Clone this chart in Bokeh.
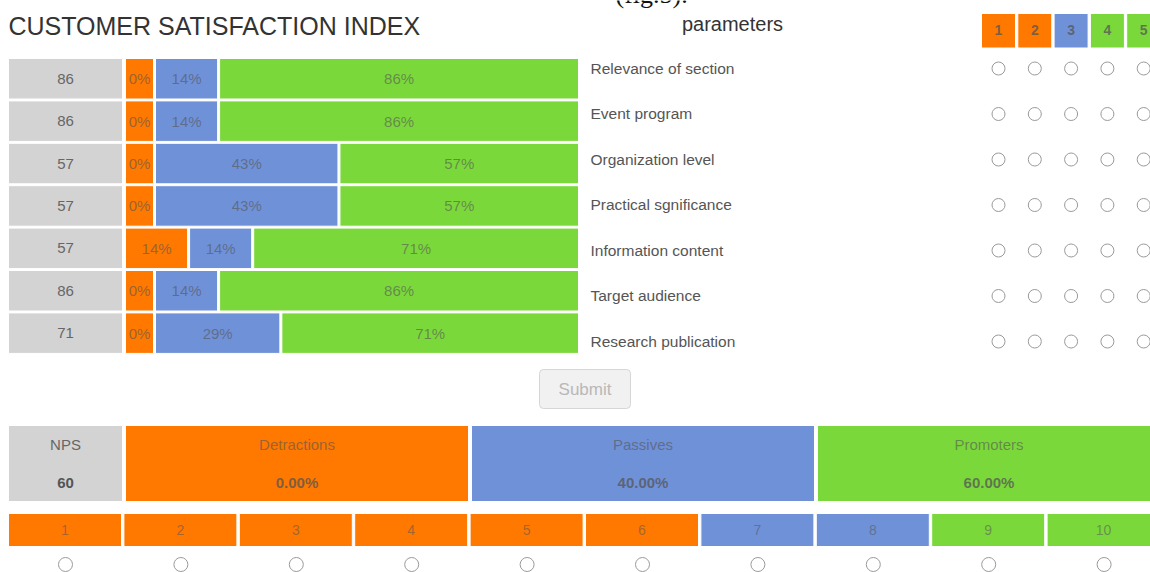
from bokeh.plotting import figure
from bokeh.models import Range1d, ColumnDataSource
from bokeh.embed import file_html
from bokeh.resources import INLINE
from bokeh.core.properties import value

# ---------------- data ----------------
title_text = "CUSTOMER SATISFACTION INDEX"
caption_text = "(fig.5)."
params_header = "parameters"
categories = ["Relevance of section", "Event program", "Organization level",
              "Practical sgnificance", "Information content", "Target audience",
              "Research publication"]
scores = [86, 86, 57, 57, 57, 86, 71]
detractors = [0, 0, 0, 0, 14, 0, 0]
passives = [14, 14, 43, 43, 14, 14, 29]
promoters = [86, 86, 57, 57, 71, 86, 71]

scale_labels = ["1", "2", "3", "4", "5"]
scale_groups = ["detractor", "detractor", "passive", "promoter", "promoter"]

nps_label = "NPS"
nps_value = 60
summary_labels = ["Detractions", "Passives", "Promoters"]
summary_groups = ["detractor", "passive", "promoter"]
summary_values = [0.00, 40.00, 60.00]

nps_scale = ["1", "2", "3", "4", "5", "6", "7", "8", "9", "10"]
nps_groups = ["detractor", "detractor", "detractor", "detractor", "detractor",
              "detractor", "passive", "passive", "promoter", "promoter"]
button_label = "Submit"

# ---------------- style ----------------
COLORS = {"detractor": "#FF7800", "passive": "#6F91D8", "promoter": "#7BD83B"}
GRAY = "#D3D3D3"
FONT = value("Liberation Sans")
TXT = "#555555"

W, H = 1150, 572
p = figure(width=W, height=H, output_backend="svg", toolbar_location=None,
           x_range=Range1d(0, W), y_range=Range1d(H, 0),
           min_border=0, outline_line_color=None, background_fill_color="white",
           border_fill_color="white")
p.xaxis.visible = False
p.yaxis.visible = False
p.grid.visible = False


def boxes(src, **kw):
    p.quad(left="l", right="r", top="t", bottom="b", source=ColumnDataSource(src),
           fill_color="c", line_color="white", line_width=1, **kw)


def texts(src, size="15px", color=TXT, alpha=0.7, align="center", style="normal",
          baseline="middle", font=FONT):
    p.text(x="x", y="y", text="s", source=ColumnDataSource(src), text_font=font,
           text_font_size=value(size), text_color=color, text_alpha=alpha,
           text_align=align, text_baseline=baseline, text_font_style=style)


# ---------------- title ----------------
texts(dict(x=[615], y=[-6], s=[caption_text]), size="26px", color="#111111", alpha=1.0,
      align="left", font=value("Liberation Serif"))
texts(dict(x=[8], y=[25.5], s=[title_text]), size="25px", color="#333333", alpha=1.0,
      align="left")
texts(dict(x=[732], y=[23], s=[params_header]), size="20px", color="#333333", alpha=1.0)

# ---------------- stacked rows ----------------
row_top0, row_pitch, bar_h = 58, 42.4, 40.5
bar_left, bar_right, gap = 125, 578, 2
L, R, T, B, C = [], [], [], [], []
tx, ty, ts = [], [], []
gx, gy, gs = [], [], []
for i, cat in enumerate(categories):
    top = row_top0 + i * row_pitch
    bot = top + bar_h
    mid = (top + bot) / 2
    gx.append(65); gy.append(mid); gs.append(str(scores[i]))
    segs = [(detractors[i], "detractor"), (passives[i], "passive"), (promoters[i], "promoter")]
    x = bar_left
    for j, (pct, grp) in enumerate(segs):
        if j == len(segs) - 1:
            right = bar_right
        else:
            right = x + max(28, pct * 4.15 + 4)
        L.append(x); R.append(right); T.append(top); B.append(bot); C.append(COLORS[grp])
        tx.append((x + right) / 2); ty.append(mid); ts.append(f"{pct}%")
        x = right + gap

nrow = len(categories)
boxes(dict(l=[8] * nrow, r=[122] * nrow,
           t=[row_top0 + i * row_pitch for i in range(nrow)],
           b=[row_top0 + i * row_pitch + bar_h for i in range(nrow)],
           c=[GRAY] * nrow))
boxes(dict(l=L, r=R, t=T, b=B, c=C))
texts(dict(x=gx, y=gy, s=gs), color="#666666", alpha=1.0)
texts(dict(x=tx, y=ty, s=ts), alpha=0.6)

# ---------------- parameter table ----------------
lab_y0, lab_pitch = 67.5, 45.5
texts(dict(x=[590] * nrow, y=[lab_y0 + i * lab_pitch for i in range(nrow)],
           s=categories), size="15.5px", color="#555555", alpha=1.0, align="left")

hx0, hpitch, hw = 981, 36.3, 34
ns = len(scale_labels)
boxes(dict(l=[hx0 + k * hpitch for k in range(ns)],
           r=[hx0 + k * hpitch + hw for k in range(ns)],
           t=[13] * ns, b=[47.5] * ns,
           c=[COLORS[g] for g in scale_groups]))
texts(dict(x=[hx0 + k * hpitch + hw / 2 for k in range(ns)],
           y=[29.5] * ns, s=scale_labels), size="14px", alpha=0.75, style="bold")

rx, ry = [], []
for i in range(nrow):
    for k in range(ns):
        rx.append(hx0 + k * hpitch + hw / 2)
        ry.append(68 + i * lab_pitch)
p.scatter(rx, ry, marker="circle", size=13, fill_color="white", line_color="#9a9a9a",
          line_width=1)

# ---------------- submit button ----------------
p.quad(left=[539], right=[630], top=[369], bottom=[408], fill_color="#f1f1f1",
       line_color="#d6d6d6", line_width=1, border_radius=4)
texts(dict(x=[584.5], y=[389], s=[button_label]), size="17px", color="#b8b8b8", alpha=1.0)

# ---------------- NPS summary ----------------
ny0, ny1 = 425, 501
boxes(dict(l=[8], r=[122], t=[ny0], b=[ny1], c=[GRAY]))
sx0, spitch, sw = 125, 346, 343
boxes(dict(l=[sx0 + k * spitch for k in range(3)], r=[sx0 + k * spitch + sw for k in range(3)],
           t=[ny0] * 3, b=[ny1] * 3, c=[COLORS[g] for g in summary_groups]))
texts(dict(x=[65], y=[444], s=[nps_label]), color="#666666", alpha=1.0)
texts(dict(x=[65], y=[482], s=[str(nps_value)]), color="#555555", alpha=1.0, style="bold")
texts(dict(x=[sx0 + k * spitch + sw / 2 for k in range(3)], y=[444] * 3, s=summary_labels),
      alpha=0.6)
texts(dict(x=[sx0 + k * spitch + sw / 2 for k in range(3)], y=[482] * 3,
           s=[f"{v:.2f}%" for v in summary_values]), alpha=0.75, style="bold")

# ---------------- NPS scale ----------------
bx0, bpitch, bw = 8, 115.4, 113
n = len(nps_scale)
boxes(dict(l=[bx0 + k * bpitch for k in range(n)], r=[bx0 + k * bpitch + bw for k in range(n)],
           t=[513] * n, b=[546] * n, c=[COLORS[g] for g in nps_groups]))
texts(dict(x=[bx0 + k * bpitch + bw / 2 for k in range(n)], y=[529.5] * n, s=nps_scale),
      size="14px", alpha=0.55)
p.scatter([bx0 + k * bpitch + bw / 2 + 0.5 for k in range(n)], [564] * n, marker="circle",
          size=14, fill_color="white", line_color="#9a9a9a", line_width=1)

open("out.html", "w").write(file_html(p, INLINE))
